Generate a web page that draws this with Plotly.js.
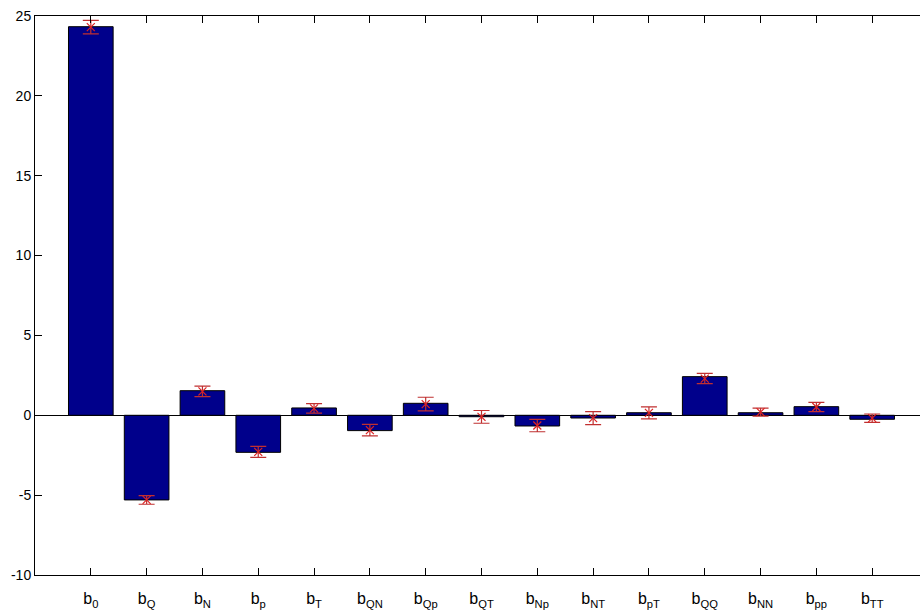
<!DOCTYPE html>
<html>
<head>
<meta charset="utf-8">
<script src="https://cdn.plot.ly/plotly-3.0.1.min.js"></script>
<style>
  html, body { margin: 0; padding: 0; background: #ffffff; overflow: hidden; }
  #chart { width: 935px; height: 614px; }
</style>
</head>
<body>
<div id="chart"></div>
<script>
// Category labels (subscripted coefficient names)
const categories = ["b<sub>0</sub>", "b<sub>Q</sub>", "b<sub>N</sub>", "b<sub>p</sub>", "b<sub>T</sub>",
  "b<sub>QN</sub>", "b<sub>Qp</sub>", "b<sub>QT</sub>", "b<sub>Np</sub>", "b<sub>NT</sub>",
  "b<sub>pT</sub>", "b<sub>QQ</sub>", "b<sub>NN</sub>", "b<sub>pp</sub>", "b<sub>TT</sub>"];
const positions = [1, 2, 3, 4, 5, 6, 7, 8, 9, 10, 11, 12, 13, 14, 15];
// Bar heights (coefficient estimates)
const coefficients = [24.33, -5.30, 1.54, -2.32, 0.46, -0.96, 0.75, -0.09, -0.67, -0.17, 0.16, 2.42, 0.16, 0.54, -0.25];
// Error bar centres and half-widths
const errorCentres = [24.3, -5.30, 1.50, -2.29, 0.43, -0.93, 0.70, -0.10, -0.64, -0.18, 0.15, 2.30, 0.20, 0.52, -0.18];
const errorHalf = [0.42, 0.27, 0.33, 0.34, 0.30, 0.36, 0.43, 0.40, 0.39, 0.41, 0.38, 0.32, 0.25, 0.29, 0.26];
const yTicks = [-10, -5, 0, 5, 10, 15, 20, 25];

const bars = {
  type: "bar",
  x: positions,
  y: coefficients,
  width: 0.8,
  marker: { color: "#00008B", line: { color: "#000000", width: 1 } },
  hoverinfo: "skip",
  showlegend: false
};

const errs = {
  type: "scatter",
  mode: "markers",
  x: positions,
  y: errorCentres,
  marker: { symbol: "x-thin", size: 8, color: "#dd2222", line: { color: "#dd2222", width: 1.2 } },
  error_y: { type: "data", array: errorHalf, visible: true, color: "#c03030", thickness: 1.2, width: 8 },
  hoverinfo: "skip",
  showlegend: false
};

const axisCommon = {
  showline: true, linecolor: "#000000", linewidth: 1,
  mirror: "ticks", ticks: "inside", ticklen: 7, tickcolor: "#000000", tickwidth: 1,
  showgrid: false,
  tickfont: { family: "Liberation Sans, Arial, sans-serif", size: 14, color: "#000000" }
};

const layout = {
  width: 935, height: 614,
  margin: { l: 35, r: 7, t: 16, b: 39 },
  paper_bgcolor: "#ffffff", plot_bgcolor: "#ffffff",
  xaxis: Object.assign({}, axisCommon, {
    range: [0, 16], tickvals: positions, ticktext: categories,
    zeroline: false, ticklabelstandoff: 9,
    tickfont: { family: "Liberation Sans, Arial, sans-serif", size: 16, color: "#000000" }
  }),
  yaxis: Object.assign({}, axisCommon, {
    range: [-10, 25], tickvals: yTicks, ticktext: yTicks.map(String),
    zeroline: true, zerolinecolor: "#000000", zerolinewidth: 1
  }),
  bargap: 0
};

Plotly.newPlot("chart", [bars, errs], layout, { staticPlot: true, displayModeBar: false });
</script>
</body>
</html>
